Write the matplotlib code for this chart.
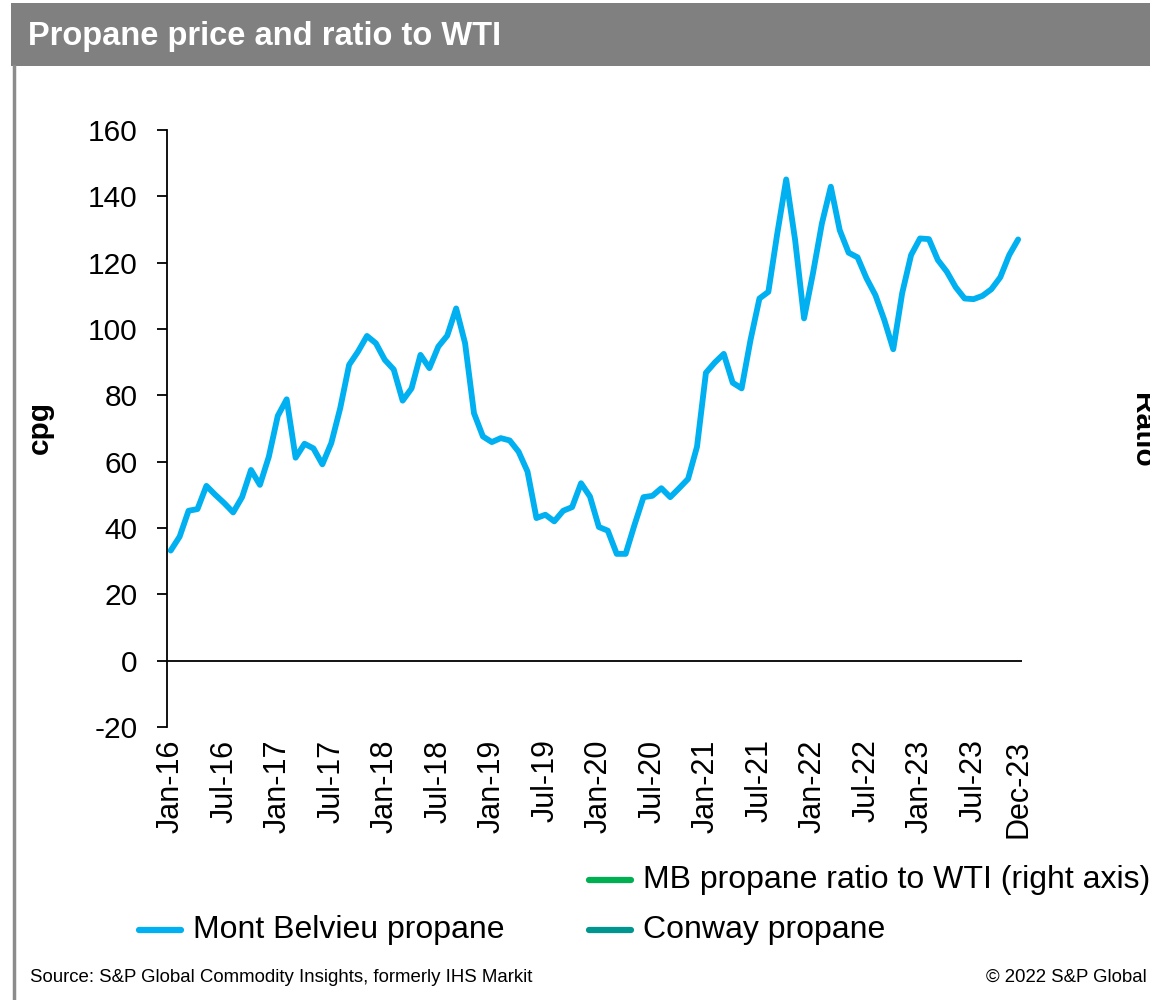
import matplotlib
matplotlib.use("Agg")
import matplotlib.pyplot as plt
from matplotlib.lines import Line2D
from matplotlib.patches import Rectangle

plt.rcParams['font.family'] = ['Liberation Sans', 'DejaVu Sans']

# ---- data ----
mont_belvieu = [
    33.2, 37.4, 45.2, 45.7, 52.7, 50.0, 47.5, 44.7, 49.3, 57.5, 53.0, 61.5,      # 2016
    73.8, 78.8, 61.2, 65.4, 64.0, 59.2, 65.6, 76.1, 89.2, 93.2, 97.9, 95.7,      # 2017
    90.7, 87.8, 78.4, 82.1, 92.2, 88.2, 94.7, 98.0, 106.2, 95.7, 74.6, 67.6,     # 2018
    65.9, 67.1, 66.4, 63.0, 57.0, 43.0, 44.0, 42.0, 45.2, 46.3, 53.5, 49.5,      # 2019
    40.3, 39.2, 32.2, 32.2, 41.0, 49.3, 49.7, 52.0, 49.3, 52.0, 54.8, 64.5,      # 2020
    86.8, 89.9, 92.5, 83.8, 82.1, 96.7, 109.2, 111.2, 128.8, 145.1, 126.8, 103.2,  # 2021
    116.8, 131.8, 142.9, 129.8, 123.0, 121.6, 115.3, 110.2, 102.7, 93.9, 110.8, 122.3,  # 2022
    127.3, 127.1, 120.8, 117.3, 112.6, 109.2, 109.0, 110.0, 112.0, 115.6, 122.3, 127.0,  # 2023
]
tick_positions = [0, 6, 12, 18, 24, 30, 36, 42, 48, 54, 60, 66, 72, 78, 84, 90, 95]
tick_labels = ['Jan-16', 'Jul-16', 'Jan-17', 'Jul-17', 'Jan-18', 'Jul-18', 'Jan-19', 'Jul-19',
               'Jan-20', 'Jul-20', 'Jan-21', 'Jul-21', 'Jan-22', 'Jul-22', 'Jan-23', 'Jul-23',
               'Dec-23']
y_ticks = [-20, 0, 20, 40, 60, 80, 100, 120, 140, 160]
legend_names = ['MB propane ratio to WTI (right axis)', 'Mont Belvieu propane', 'Conway propane']
legend_colors = ['#00B050', '#00B0F0', '#00968F']

W, H = 1150, 1000
fig = plt.figure(figsize=(11.5, 10), dpi=100)
fig.patch.set_facecolor('white')

# header band
fig.patches.append(Rectangle((11 / W, 1 - 66 / H), 1 - 11 / W, 63 / H, transform=fig.transFigure,
                             facecolor='#808080', edgecolor='none', zorder=0))
fig.add_artist(Line2D([14 / W, 14 / W], [0, 1 - 66 / H], transform=fig.transFigure,
                      color='#8c8c8c', lw=2.5))
fig.text(28 / W, 1 - 37 / H, 'Propane price and ratio to WTI', color='white',
         fontsize=23.5, fontweight='bold', va='center', ha='left')

ax = fig.add_axes([166.7 / W, 1 - 727 / H, (1021.7 - 166.7) / W, (727 - 130) / H])
x = list(range(len(mont_belvieu)))
ax.plot(x, mont_belvieu, color='#00B0F0', lw=4.2, solid_joinstyle='round',
        solid_capstyle='round', zorder=3)
ax.axhline(0, color='black', lw=1.3, zorder=2)
ax.set_xlim(-0.45, 95.4)
ax.set_ylim(-20, 160)
ax.set_yticks(y_ticks)
ax.set_yticklabels([str(v) for v in y_ticks])
ax.set_xticks(tick_positions)
ax.set_xticklabels(tick_labels, rotation=90)
for s in ['top', 'right', 'bottom']:
    ax.spines[s].set_visible(False)
ax.spines['left'].set_linewidth(1.3)
ax.tick_params(axis='y', direction='out', length=7, width=1.3, pad=14, labelsize=21.5)
ax.tick_params(axis='x', length=0, pad=9, labelsize=22)

fig.text(40 / W, 1 - 428 / H, 'cpg', rotation=90, fontsize=21.5, fontweight='bold',
         ha='center', va='center')
fig.text(1142 / W, 1 - 430 / H, 'Ratio', rotation=-90, fontsize=21.5, fontweight='bold',
         ha='center', va='center')

# legend (manual layout)
legend_pos = [(589, 880), (139, 930), (589, 930)]
for name, col, (lx, ly) in zip(legend_names, legend_colors, legend_pos):
    fig.add_artist(Line2D([lx / W, (lx + 42) / W], [1 - ly / H, 1 - ly / H],
                          transform=fig.transFigure, color=col, lw=4.5,
                          solid_capstyle='round'))
    fig.text((lx + 54) / W, 1 - ly / H, name, fontsize=23, ha='left', va='center')

fig.text(30 / W, 1 - 977 / H, 'Source: S&P Global Commodity Insights, formerly IHS Markit',
         fontsize=13.4, ha='left', va='center')
fig.text(1147 / W, 1 - 977 / H, '\u00a9 2022 S&P Global', fontsize=13.4, ha='right', va='center')

fig.savefig('out.png', dpi=100)
